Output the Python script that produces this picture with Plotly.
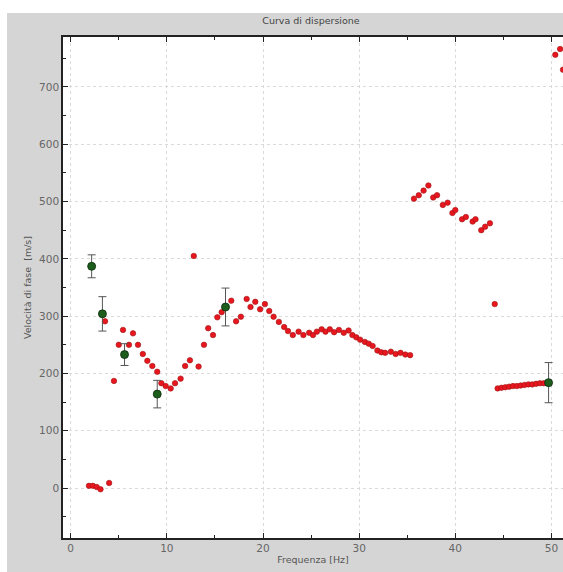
import plotly.graph_objects as go

# Red dispersion points (frequency Hz, phase velocity m/s)
red_f = [1.9, 2.3, 2.7, 3.1, 4.0,
         3.57, 4.5, 5.0, 5.44, 6.06, 6.48, 7.0, 7.5, 7.97, 8.49, 9.0, 9.43, 9.88, 10.4, 10.85,
         11.43, 11.9, 12.4, 12.8, 13.3, 13.86, 14.3, 14.8, 15.25, 15.7, 16.7, 17.2, 17.7, 18.3,
         18.7, 19.2, 19.7, 20.2, 20.65, 21.1, 21.65, 22.2, 22.6, 23.1, 23.7, 24.2, 24.8, 25.2,
         25.6, 26.1, 26.5, 26.95, 27.4, 27.9, 28.4, 28.9, 29.3, 29.7, 30.1, 30.6, 31.0, 31.4,
         31.9, 32.3, 32.7, 33.3, 33.8, 34.3, 34.8, 35.3,
         35.7, 36.2, 36.7, 37.2, 37.7, 38.1, 38.7, 39.2, 39.7, 40.0, 40.7, 41.1, 41.8, 42.1,
         42.7, 43.1, 43.6,
         44.1, 44.4, 44.8, 45.2, 45.6, 46.0, 46.4, 46.8, 47.2, 47.6, 48.0, 48.4, 48.8, 49.2, 49.6,
         50.4, 50.9, 51.2]
red_v = [4, 4, 2, -2, 9,
         291, 187, 250, 276, 250, 270, 250, 234, 222, 213, 203, 183, 178, 174, 183,
         191, 213, 223, 405, 212, 250, 279, 267, 298, 307, 327, 291, 299, 330,
         316, 325, 312, 321, 309, 299, 290, 281, 274, 267, 273, 267, 271, 267,
         273, 277, 273, 277, 272, 276, 271, 275, 267, 263, 259, 255, 252, 248,
         240, 237, 236, 238, 234, 236, 233, 232,
         505, 511, 519, 528, 507, 511, 494, 498, 480, 485, 469, 473, 465, 469,
         450, 456, 462,
         321, 174, 175, 176, 177, 178, 178, 179, 180, 181, 181, 182, 183, 183, 184,
         756, 766, 730]

# Green experimental points with error bars
green_f = [2.18, 3.3, 5.6, 9.0, 16.1, 49.7]
green_v = [387, 304, 233, 164, 316, 184]
green_err = [20, 30, 19, 24, 33, 35]

x_ticks = [0, 10, 20, 30, 40, 50]
y_ticks = [0, 100, 200, 300, 400, 500, 600, 700]

fig = go.Figure()
fig.add_trace(go.Scatter(
    x=red_f, y=red_v, mode="markers",
    marker=dict(color="#e8161e", size=5.5, line=dict(color="#a01414", width=0.6)),
    showlegend=False))
fig.add_trace(go.Scatter(
    x=green_f, y=green_v, mode="markers",
    marker=dict(color="#1d5e1d", size=8, line=dict(color="#0a2a0a", width=0.8)),
    error_y=dict(type="data", array=green_err, visible=True, color="#555555",
                 thickness=1, width=4),
    showlegend=False))

font_family = "DejaVu Sans, Liberation Sans, sans-serif"
W, H = 563, 572
ml, mr, mt, mb = 63, 0, 37, 34
pw, ph = W - ml - mr, H - mt - mb

fig.update_layout(
    width=W, height=H,
    margin=dict(l=ml, r=mr, t=mt, b=mb, pad=0),
    paper_bgcolor="#d5d5d5",
    plot_bgcolor="white",
    font=dict(family=font_family, size=9, color="#555555"),
    title=dict(text="Curva di dispersione", x=(311) / W, xanchor="center",
               y=1 - 21 / H, yanchor="middle",
               font=dict(size=9.5, color="#444444")),
    xaxis=dict(
        range=[-0.8, 51.2], tickvals=x_ticks, ticks="inside", ticklen=5,
        tickcolor="#222", showline=True, linecolor="#222", linewidth=1.5,
        mirror="ticks", showgrid=True, gridcolor="#dadada", griddash="dot",
        gridwidth=1, zeroline=False,
        minor=dict(ticks="inside", dtick=5, tick0=0, ticklen=3, tickcolor="#222",
                   showgrid=False),
        tickfont=dict(size=10.5, color="#666666"),
        title=dict(text="Frequenza [Hz]", standoff=3,
                   font=dict(size=9.5, color="#555555")),
    ),
    yaxis=dict(
        range=[-87, 787], tickvals=y_ticks, ticks="inside", ticklen=5,
        tickcolor="#222", showline=True, linecolor="#222", linewidth=1.5,
        mirror=False, showgrid=True, gridcolor="#dadada", griddash="dot",
        gridwidth=1, zeroline=False,
        minor=dict(ticks="inside", dtick=50, tick0=0, ticklen=3, tickcolor="#222",
                   showgrid=False),
        tickfont=dict(size=10.5, color="#666666"),
        title=dict(text="Velocità di fase  [m/s]", standoff=6,
                   font=dict(size=9.5, color="#555555")),
    ),
    shapes=[
        dict(type="rect", xref="paper", yref="paper",
             x0=-ml / pw, x1=(W - ml) / pw, y0=1 + (mt - 13) / ph, y1=1 + mt / ph,
             fillcolor="white", line=dict(width=0), layer="above"),
        dict(type="rect", xref="paper", yref="paper",
             x0=-ml / pw, x1=(7 - ml) / pw, y0=-mb / ph, y1=1 + mt / ph,
             fillcolor="white", line=dict(width=0), layer="above"),
    ],
)

fig.write_html("out.html")
